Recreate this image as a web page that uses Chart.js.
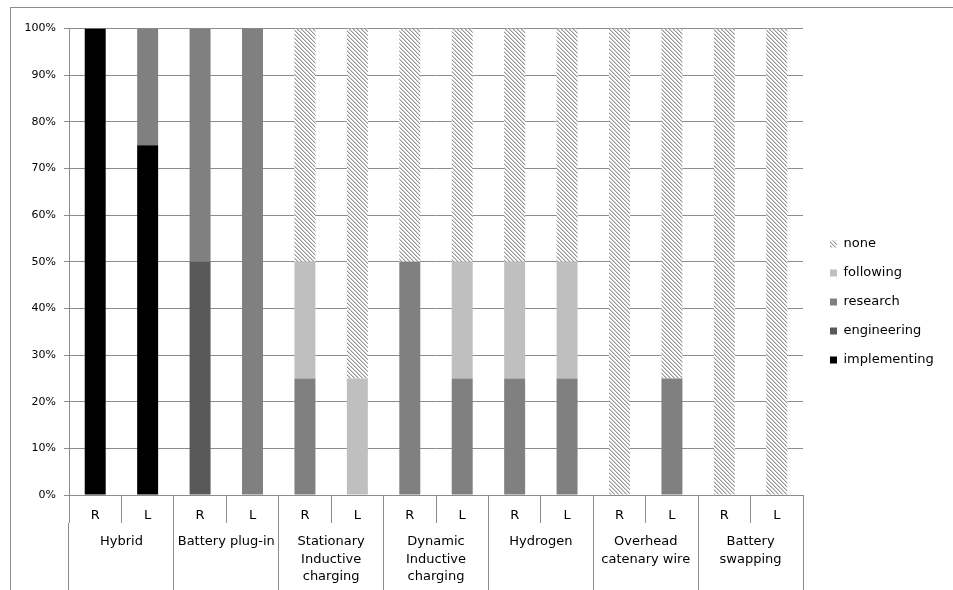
<!DOCTYPE html>
<html>
<head>
<meta charset="utf-8">
<script src="https://cdn.jsdelivr.net/npm/chart.js@4/dist/chart.umd.min.js"></script>
<style>
  html, body { margin: 0; padding: 0; background: #fff; overflow: hidden; }
  canvas { display: block; }
</style>
</head>
<body>
<canvas id="c" width="953" height="590"></canvas>
<script>
// Technologies, each with an R and an L bar
const groups = [
  ['Hybrid'],
  ['Battery plug-in'],
  ['Stationary', 'Inductive', 'charging'],
  ['Dynamic', 'Inductive', 'charging'],
  ['Hydrogen'],
  ['Overhead', 'catenary wire'],
  ['Battery', 'swapping']
];
const sides = ['R', 'L'];

// Share of each status (%), ordered R, L per technology
const implementing = [100, 75,   0,   0,   0,  0,   0,  0,   0,  0,   0,  0,   0,   0];
const engineering  = [  0,  0,  50,   0,   0,  0,   0,  0,   0,  0,   0,  0,   0,   0];
const research     = [  0, 25,  50, 100,  25,  0,  50, 25,  25, 25,   0, 25,   0,   0];
const following    = [  0,  0,   0,   0,  25, 25,   0, 25,  25, 25,   0,  0,   0,   0];
const none         = [  0,  0,   0,   0,  50, 75,  50, 50,  50, 50, 100, 75, 100, 100];

// Value axis ticks
const yMax = 100;
const yStep = 10;
const ySuffix = '%';

const barLabels = groups.flatMap(() => sides);
const groupLabels = groups;

const GRID = '#8c8c8c';
const TEXT = '#000000';
Chart.defaults.font.family = "'DejaVu Sans', sans-serif";
Chart.defaults.color = TEXT;

const canvas = document.getElementById('c');
const ctx = canvas.getContext('2d');

// Light downward-diagonal hatch used for "none"
function makeHatch() {
  const n = 4;
  const t = document.createElement('canvas');
  t.width = n; t.height = n;
  const g = t.getContext('2d');
  const img = g.createImageData(n, n);
  for (let y = 0; y < n; y++) {
    for (let x = 0; x < n; x++) {
      const k = ((x - y) % n + n) % n;
      const v = k === 0 ? 150 : (k === 1 ? 208 : 255);
      const i = (y * n + x) * 4;
      img.data[i] = img.data[i + 1] = img.data[i + 2] = v;
      img.data[i + 3] = 255;
    }
  }
  g.putImageData(img, 0, 0);
  return ctx.createPattern(t, 'repeat');
}
const hatch = makeHatch();

// Outer frame, fixed legend column and legend placement
const framePlugin = {
  id: 'framePlugin',
  beforeLayout(chart) {
    const lg = chart.legend;
    if (lg && !lg._fixedWidth) {
      const fit = lg.fit;
      lg.fit = function () { fit.call(this); this.width = 150; };
      lg._fixedWidth = true;
    }
  },
  afterLayout(chart) {
    const lg = chart.legend;
    if (!lg) return;
    lg.left = chart.chartArea.right + 11;
    lg.right = lg.left + 138;
    lg.top = 217;
    lg.bottom = lg.top + 170;
  },
  beforeDraw(chart) {
    const c = chart.ctx;
    c.save();
    c.fillStyle = '#ffffff';
    c.fillRect(0, 0, chart.width, chart.height);
    c.strokeStyle = GRID;
    c.lineWidth = 1;
    c.strokeRect(10.5, 7.5, chart.width + 20, chart.height + 20);
    c.restore();
  }
};

const series = [
  { label: 'implementing', data: implementing, backgroundColor: '#000000' },
  { label: 'engineering',  data: engineering,  backgroundColor: '#595959' },
  { label: 'research',     data: research,     backgroundColor: '#808080' },
  { label: 'following',    data: following,    backgroundColor: '#bfbfbf' },
  { label: 'none',         data: none,         backgroundColor: hatch }
];

new Chart(canvas, {
  type: 'bar',
  data: {
    labels: barLabels,
    datasets: series.map(s => Object.assign({
      categoryPercentage: 1.0,
      barPercentage: 0.4,
      borderWidth: 0
    }, s))
  },
  options: {
    responsive: false,
    animation: false,
    events: [],
    layout: { padding: { top: 28.5, left: 0, right: 0, bottom: 0 } },
    plugins: {
      tooltip: { enabled: false },
      legend: {
        position: 'right',
        reverse: true,
        labels: {
          boxWidth: 7,
          boxHeight: 7,
          padding: 16,
          color: TEXT,
          font: { size: 13 }
        }
      }
    },
    scales: {
      x: {
        stacked: true,
        weight: 0,
        offset: true,
        grid: {
          offset: true,
          drawOnChartArea: false,
          drawTicks: true,
          tickLength: 28,
          color: GRID
        },
        border: { display: true, color: GRID },
        ticks: {
          autoSkip: false,
          maxRotation: 0,
          minRotation: 0,
          padding: -14.8,
          color: TEXT,
          font: { size: 13 }
        },
        afterFit(s) { s.height = 28; }
      },
      group: {
        type: 'category',
        position: 'bottom',
        weight: 1,
        labels: groupLabels,
        offset: true,
        grid: {
          offset: true,
          drawOnChartArea: false,
          drawTicks: true,
          tickLength: 67,
          color: GRID
        },
        border: { display: false },
        ticks: {
          autoSkip: false,
          maxRotation: 0,
          minRotation: 0,
          padding: -56.8,
          color: TEXT,
          font: { size: 13, lineHeight: 1.35 }
        },
        afterFit(s) { s.height = 67; }
      },
      y: {
        stacked: true,
        min: 0,
        max: yMax,
        grid: { color: GRID, tickLength: 5, drawTicks: true },
        border: { display: true, color: GRID },
        ticks: {
          stepSize: yStep,
          padding: 8,
          color: TEXT,
          font: { size: 11 },
          callback: v => v + ySuffix
        },
        afterFit(s) { s.width = 69; }
      }
    }
  },
  plugins: [framePlugin]
});
</script>
</body>
</html>
